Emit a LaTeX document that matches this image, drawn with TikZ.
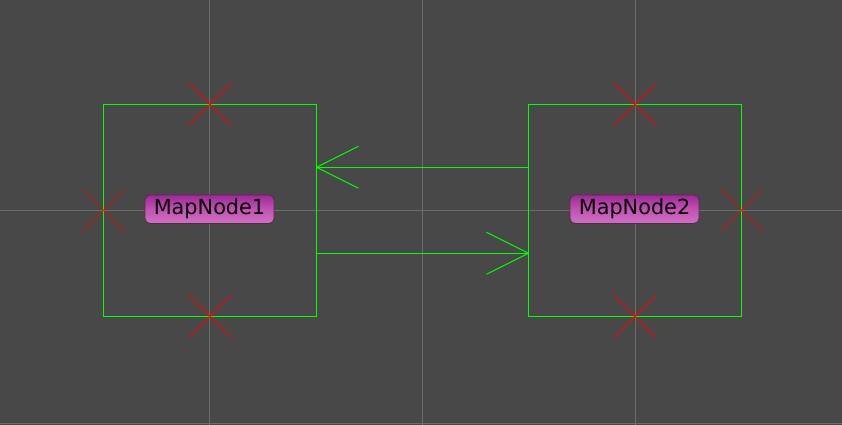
\documentclass[tikz,border=0pt]{standalone}
\usepackage{fontspec}
\setmainfont{DejaVu Sans}
\definecolor{bg}{HTML}{484848}
\definecolor{gridgray}{HTML}{6C6C6C}
\definecolor{boxgreen}{HTML}{00FF00}
\definecolor{xred}{HTML}{FF0000}
\definecolor{pilltop}{HTML}{A02898}
\definecolor{pillmid}{HTML}{C252B2}
\definecolor{pillbot}{HTML}{D070C4}
\definecolor{pillborder}{HTML}{4A3046}
\begin{document}
\begin{tikzpicture}[x=1pt,y=-1pt,
  mapbox/.style={draw=boxgreen, line width=1pt, minimum width=213pt, minimum height=212pt, inner sep=0pt, outer sep=0pt},
  pill/.style={rounded corners=5pt, draw=pillborder, line width=0.8pt,
    top color=pilltop, bottom color=pillbot, middle color=pillmid,
    font=\fontsize{20.8}{24}\selectfont, text=black,
    minimum width=129pt, minimum height=28.5pt, inner sep=0pt},
  gridline/.style={draw=gridgray, line width=0.9pt},
  conn/.style={draw=boxgreen, line width=1pt},
  xmark/.style={draw=xred, line width=0.9pt},
  xthin/.style={draw=xred, line width=0.6pt}]
\fill[bg] (0,0) rectangle (842,425);
\useasboundingbox (0,0) rectangle (842,425);
% grid
\draw[gridline] (209.5,0) -- (209.5,425);
\draw[gridline] (422.7,0) -- (422.7,425);
\draw[gridline] (635.3,0) -- (635.3,425);
\draw[gridline] (0,210) -- (842,210);
\draw[gridline] (0,423.3) -- (842,423.3);
% boxes
\node[mapbox] (b1) at (210,210.2) {};
\node[mapbox] (b2) at (635,210.2) {};
% labels
\node[pill] (l1) at (209.5,209.2) {MapNode1};
\node[pill] (l2) at (634.5,209.2) {MapNode2};
% connectors
\coordinate (t1) at ([yshift=43pt]b1.east);
\coordinate (s1) at ([yshift=43pt]b2.west);
\coordinate (t2) at ([yshift=-43pt]b2.west);
\coordinate (s2) at ([yshift=-43pt]b1.east);
\draw[conn] (s1) -- (t1);
\draw[conn] (t1) -- ++(42,-21) (t1) -- ++(42,21);
\draw[conn] (s2) -- (t2);
\draw[conn] (t2) -- ++(-42,-21) (t2) -- ++(-42,21);
% red crosses
\foreach \c in {b1.north,b1.south,b2.north,b2.south}{
  \draw[xmark] (\c) ++(-21,-21) -- ++(42,42);
  \draw[xmark] (\c) ++(-21,21) -- ++(42,-42);
}
\foreach \c in {b1.west,b2.east}{
  \draw[xthin] (\c) ++(-21,-21) -- ++(42,42);
  \draw[xthin] (\c) ++(-21,21) -- ++(42,-42);
}
\end{tikzpicture}
\end{document}
